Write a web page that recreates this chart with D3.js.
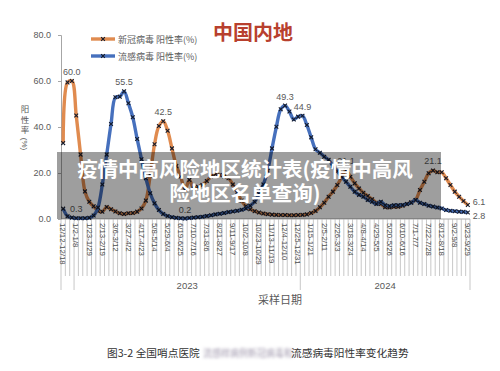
<!DOCTYPE html>
<html>
<head>
<meta charset="utf-8">
<script src="https://cdn.jsdelivr.net/npm/d3@7"></script>
<style>
body { margin: 0; background: #fff; }
svg { display: block; }
</style>
</head>
<body>
<div id="chart"></div>
<script>
// weekly positivity (%), 12/12/2022 .. 9/23/2024
var covid = [
  33.0, 59.4, 60.0, 45.0, 28.0, 12.0, 7.5, 5.5, 3.5, 3.2,
  5.2, 4.2, 3.3, 2.5, 2.2, 2.5, 2.6, 3.2, 4.6, 8.0,
  19.0, 32.5, 40.4, 42.5, 38.4, 30.7, 23.0, 18.5, 12.8, 17.0,
  13.3, 14.0, 14.8, 16.5, 18.5, 19.6, 19.1, 18.5, 17.7, 15.0,
  11.5, 8.0, 5.5, 4.2, 3.4, 2.8, 2.4, 2.1, 1.9, 1.8,
  1.7, 1.7, 1.6, 1.6, 1.7, 1.8, 2.0, 2.6, 3.5, 5.1,
  7.1, 9.7, 11.9, 14.8, 18.1, 21.1, 18.4, 15.5, 13.3, 11.4,
  10.0, 8.6, 7.1, 6.5, 5.1, 5.0, 5.3, 5.3, 5.8, 6.5,
  7.3, 8.3, 12.6, 16.2, 19.9, 21.1, 20.3, 20.3, 17.7, 14.8,
  11.9, 9.7, 7.8, 6.1
];
var flu = [
  4.5, 1.2, 0.6, 0.3, 0.3, 0.3, 0.5, 1.5, 5.0, 15.0,
  28.0, 41.3, 52.9, 53.2, 55.5, 50.3, 44.2, 34.8, 26.0, 17.7,
  11.2, 6.8, 3.9, 2.2, 1.3, 0.8, 0.5, 0.3, 0.2, 0.4,
  0.6, 0.8, 1.0, 1.3, 1.6, 2.0, 2.3, 2.6, 3.0, 3.3,
  3.6, 4.0, 4.6, 5.8, 7.5, 11.0, 15.0, 21.0, 30.7, 40.1,
  47.7, 49.3, 46.7, 43.3, 44.5, 44.9, 40.9, 35.5, 30.3, 28.8,
  27.1, 25.7, 23.0, 20.8, 18.4, 16.2, 14.0, 11.9, 10.5, 9.7,
  8.3, 7.5, 6.5, 7.5, 6.0, 5.6, 6.0, 6.0, 6.1, 6.5,
  7.1, 8.3, 7.1, 6.5, 5.8, 5.4, 5.0, 4.6, 3.9, 3.6,
  3.4, 3.2, 3.1, 2.8
];
// one label every third week
var tickLabels = [
  "12/12-12/18", "1/2-1/8", "1/23-1/29", "2/13-2/19", "3/6-3/12", "3/27-4/2",
  "4/17-4/23", "5/8-5/14", "5/29-6/4", "6/19-6/25", "7/10-7/16", "7/31-8/6",
  "8/21-8/27", "9/11-9/17", "10/2-10/8", "10/23-10/29", "11/13-11/19", "12/4-12/10",
  "12/25-12/31", "1/15-1/21", "2/5-2/11", "2/26-3/3", "3/18-3/24", "4/8-4/14",
  "4/29-5/5", "5/20-5/26", "6/10-6/16", "7/1-7/7", "7/22-7/28", "8/12-8/18",
  "9/2-9/8", "9/23-9/29"
];
var yearNames = ["", "2023", "2024"];
var yearBreaks = [0, 3, 55, 94];
var yTicks = [0, 20, 40, 60, 80];
var seriesNames = ["新冠病毒 阳性率(%)", "流感病毒 阳性率(%)"];
var covidLabelWeeks = [2, 23, 65, 85, 93];
var fluLabelWeeks = [3, 14, 28, 51, 55, 93];

var width = 500, height = 371;
var orange = "#e08b4f", blue = "#4670bd", grey = "#595959";
var numFont = "'Liberation Sans', Arial, sans-serif";
var cjkFont = "'Noto Sans CJK SC', sans-serif";

var svg = d3.select("#chart").append("svg")
    .attr("width", width).attr("height", height);

var x = d3.scaleBand().domain(d3.range(covid.length)).range([61, 470]);
var y = d3.scaleLinear().domain([0, 80]).range([219, 35]);
var xc = function(i) { return x(i) + x.bandwidth() / 2; };

// title
svg.append("text")
    .attr("x", 213).attr("y", 40)
    .style("font-family", cjkFont).style("font-weight", "bold")
    .style("font-size", "20px").style("fill", "#b8402e")
    .text("中国内地");

// y axis
var yAxis = svg.append("g")
    .attr("transform", "translate(61,0)")
    .call(d3.axisLeft(y).tickValues(yTicks).tickFormat(d3.format(".1f")).tickSize(3).tickPadding(7));
yAxis.select(".domain").attr("stroke", "#a6a6a6");
yAxis.selectAll(".tick line").attr("stroke", "#a6a6a6");
yAxis.selectAll("text").style("font-family", numFont).style("font-size", "9px").style("fill", grey);

// y axis title, stacked
["阳", "性", "率"].forEach(function(c, k) {
    svg.append("text")
        .attr("x", 25).attr("y", 112 + k * 10.5)
        .attr("text-anchor", "middle")
        .style("font-family", cjkFont).style("font-size", "8.5px").style("fill", grey)
        .text(c);
});
svg.append("text")
    .attr("transform", "translate(22,144) rotate(90)")
    .attr("text-anchor", "middle")
    .style("font-family", numFont).style("font-size", "8px").style("fill", grey)
    .text("(%)");

// x axis: baseline, category dividers, labels
svg.append("line")
    .attr("x1", 61).attr("x2", 470).attr("y1", 219).attr("y2", 219)
    .attr("stroke", "#a6a6a6");
d3.range(covid.length + 1).forEach(function(b) {
    var bx = 61 + b * x.bandwidth();
    var isYear = yearBreaks.indexOf(b) >= 0;
    svg.append("line")
        .attr("x1", bx).attr("x2", bx)
        .attr("y1", 219).attr("y2", isYear ? 290 : 276)
        .attr("stroke", "#b0b0b0").attr("stroke-width", 0.7);
});
tickLabels.forEach(function(t, k) {
    var i = k * 3;
    svg.append("text")
        .attr("transform", "translate(" + xc(i) + ",223) rotate(90)")
        .attr("dy", "0.35em")
        .style("font-family", numFont).style("font-size", "7.8px").style("fill", "#4d4d4d")
        .text(t);
});
yearNames.forEach(function(n, k) {
    var cx = 61 + (yearBreaks[k] + yearBreaks[k + 1]) / 2 * x.bandwidth();
    svg.append("text")
        .attr("x", cx).attr("y", 289).attr("text-anchor", "middle")
        .style("font-family", numFont).style("font-size", "9.5px").style("fill", grey)
        .text(n);
});
svg.append("text")
    .attr("x", 280).attr("y", 304).attr("text-anchor", "middle")
    .style("font-family", cjkFont).style("font-size", "11px").style("fill", grey)
    .text("采样日期");

// series
var line = d3.line()
    .x(function(d, i) { return xc(i); })
    .y(function(d) { return y(d); })
    .curve(d3.curveCatmullRom.alpha(0.5));
var marker = d3.symbol().type(d3.symbolX).size(11);

function drawSeries(values, color) {
    svg.append("path")
        .datum(values)
        .attr("d", line)
        .attr("fill", "none")
        .attr("stroke", color)
        .attr("stroke-width", 3.4);
    svg.append("g").selectAll("path")
        .data(values)
        .join("path")
        .attr("transform", function(d, i) { return "translate(" + xc(i) + "," + y(d) + ")"; })
        .attr("d", marker)
        .attr("stroke", "#141a2a")
        .attr("stroke-width", 1.1);
}
drawSeries(covid, orange);
drawSeries(flu, blue);

// data labels
function drawLabels(values, weeks, lastDy) {
    weeks.forEach(function(i) {
        var last = i === values.length - 1;
        svg.append("text")
            .attr("x", last ? xc(i) + 5 : xc(i))
            .attr("y", last ? y(values[i]) + lastDy : y(values[i]) - 6)
            .attr("text-anchor", last ? "start" : "middle")
            .style("font-family", numFont).style("font-size", "9px").style("fill", grey)
            .text(values[i].toFixed(1));
    });
}
drawLabels(covid, covidLabelWeeks, 0);
drawLabels(flu, fluLabelWeeks, 6);

// legend
[orange, blue].forEach(function(c, k) {
    var ly = 39 + k * 17;
    svg.append("line")
        .attr("x1", 91).attr("x2", 115).attr("y1", ly).attr("y2", ly)
        .attr("stroke", c).attr("stroke-width", 3.4);
    svg.append("path")
        .attr("transform", "translate(103," + ly + ")")
        .attr("d", marker)
        .attr("stroke", "#141a2a").attr("stroke-width", 1.1);
    svg.append("text")
        .attr("x", 118).attr("y", ly + 3.5)
        .style("font-family", cjkFont).style("font-size", "9px").style("fill", grey)
        .text(seriesNames[k]);
});

// overlay banner
svg.append("rect")
    .attr("x", 57).attr("y", 152).attr("width", 384).attr("height", 67)
    .attr("fill", "rgba(0,0,0,0.38)");
svg.append("text")
    .attr("x", 245).attr("y", 177).attr("text-anchor", "middle")
    .style("font-family", cjkFont).style("font-weight", "bold")
    .style("font-size", "20.5px").style("fill", "#fff")
    .text("疫情中高风险地区统计表(疫情中高风");
svg.append("text")
    .attr("x", 245).attr("y", 201).attr("text-anchor", "middle")
    .style("font-family", cjkFont).style("font-weight", "bold")
    .style("font-size", "20.5px").style("fill", "#fff")
    .text("险地区名单查询)");

// caption with a blurred middle part
var blur = svg.append("defs").append("filter").attr("id", "blur");
blur.append("feGaussianBlur").attr("stdDeviation", 1.6);
svg.append("text")
    .attr("x", 107).attr("y", 357)
    .style("font-family", cjkFont).style("font-size", "10.7px").style("fill", "#333")
    .text("图3-2 全国哨点医院");
svg.append("text")
    .attr("x", 203).attr("y", 357)
    .attr("textLength", 90).attr("lengthAdjust", "spacingAndGlyphs")
    .attr("filter", "url(#blur)")
    .style("font-family", cjkFont).style("font-size", "10.7px").style("fill", "#a49cb0")
    .text("流感样病例新冠病毒和");
svg.append("text")
    .attr("x", 291).attr("y", 357)
    .style("font-family", cjkFont).style("font-size", "10.7px").style("fill", "#333")
    .text("流感病毒阳性率变化趋势");
</script>
</body>
</html>
